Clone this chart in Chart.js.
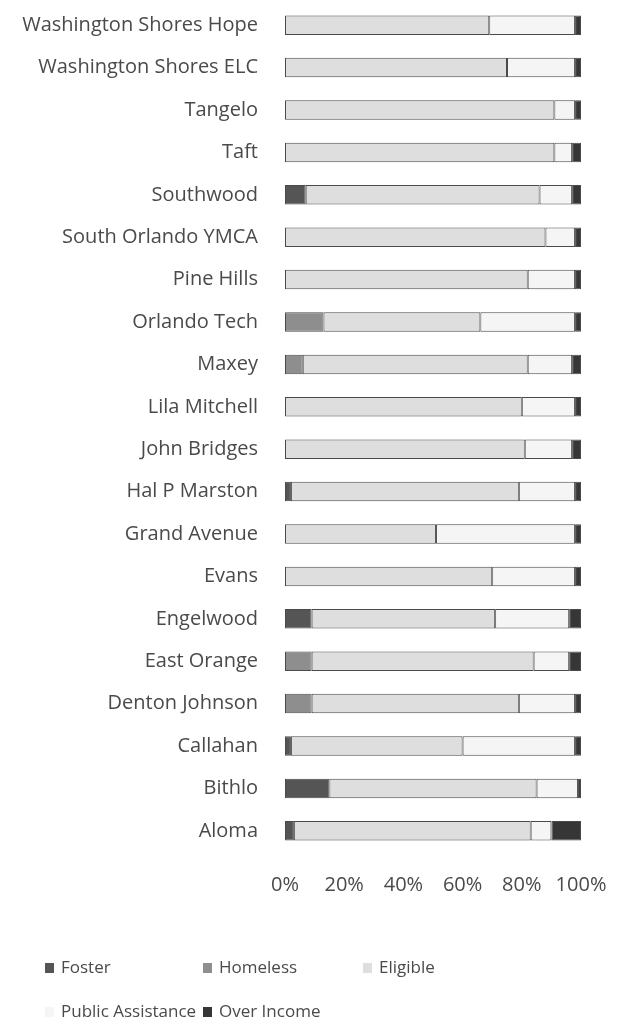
<!DOCTYPE html>
<html>
<head>
<meta charset="utf-8">
<script src="https://cdn.jsdelivr.net/npm/chart.js@4/dist/chart.umd.min.js"></script>
<style>
  html, body { margin: 0; padding: 0; background: #fff; }
  #wrap { width: 621px; height: 1024px; position: relative; }
</style>
</head>
<body>
<div id="wrap"><canvas id="barChart" width="621" height="1024"></canvas></div>
<script>
const schools = [
  "Washington Shores Hope", "Washington Shores ELC", "Tangelo", "Taft", "Southwood",
  "South Orlando YMCA", "Pine Hills", "Orlando Tech", "Maxey", "Lila Mitchell",
  "John Bridges", "Hal P Marston", "Grand Avenue", "Evans", "Engelwood",
  "East Orange", "Denton Johnson", "Callahan", "Bithlo", "Aloma"
];
const foster           = [0, 0, 0, 0, 7, 0, 0, 0, 0, 0, 0, 2, 0, 0, 9, 0, 0, 2, 15, 3];
const homeless         = [0, 0, 0, 0, 0, 0, 0, 13, 6, 0, 0, 0, 0, 0, 0, 9, 9, 0, 0, 0];
const eligible         = [69, 75, 91, 91, 79, 88, 82, 53, 76, 80, 81, 77, 51, 70, 62, 75, 70, 58, 70, 80];
const publicAssistance = [29, 23, 7, 6, 11, 10, 16, 32, 15, 18, 16, 19, 47, 28, 25, 12, 19, 38, 14, 7];
const overIncome       = [2, 2, 2, 3, 3, 2, 2, 2, 3, 2, 3, 2, 2, 2, 4, 4, 2, 2, 1, 10];
const xTicks = [0, 20, 40, 60, 80, 100];

const FONT = "'Open Sans', sans-serif";
const TEXT = "#4a4a4a";

// Excel-style legend in a fixed 3-column grid under the chart
const gridLegend = {
  id: "gridLegend",
  afterDraw(chart) {
    const ctx = chart.ctx;
    const cols = [45, 203, 363];
    const rows = [968, 1012];
    ctx.save();
    ctx.font = "17px " + FONT;
    ctx.textBaseline = "middle";
    chart.data.datasets.forEach((ds, i) => {
      const x = cols[i % 3];
      const y = rows[Math.floor(i / 3)];
      ctx.fillStyle = ds.backgroundColor;
      ctx.fillRect(x, y - 5, 9, 10);
      ctx.fillStyle = TEXT;
      ctx.fillText(ds.label, x + 16, y);
    });
    ctx.restore();
  },
};

const ctx = document.getElementById("barChart").getContext("2d");
const barChart = new Chart(ctx, {
  type: "bar",
  data: {
    labels: schools,
    datasets: [
      { label: "Foster", data: foster, backgroundColor: "#555555" },
      { label: "Homeless", data: homeless, backgroundColor: "#8e8e8e" },
      { label: "Eligible", data: eligible, backgroundColor: "#dedede" },
      { label: "Public Assistance", data: publicAssistance, backgroundColor: "#f5f5f5" },
      { label: "Over Income", data: overIncome, backgroundColor: "#363636" },
    ].map((d) => ({
      ...d,
      borderColor: "#4a4a4a",
      borderWidth: 1,
      borderSkipped: false,
      barPercentage: 0.46,
      categoryPercentage: 1,
    })),
  },
  options: {
    indexAxis: "y",
    responsive: false,
    animation: false,
    layout: { padding: { top: 4, right: 40, bottom: 122, left: 0 } },
    plugins: {
      legend: { display: false },
      tooltip: { enabled: false },
    },
    scales: {
      x: {
        stacked: true,
        min: 0,
        max: 100,
        grid: { display: false, drawTicks: false },
        border: { display: false },
        afterBuildTicks(scale) {
          scale.ticks = xTicks.map((v) => ({ value: v }));
        },
        afterFit(scale) {
          scale.height = 50;
          scale.paddingLeft = 0;
          scale.paddingRight = 0;
        },
        ticks: {
          padding: 21,
          color: TEXT,
          font: { family: FONT, size: 20 },
          callback: (v) => v + "%",
        },
      },
      y: {
        stacked: true,
        grid: { display: false, drawTicks: false },
        border: { display: false },
        afterFit(scale) {
          scale.width = 285;
          scale.paddingTop = 0;
          scale.paddingBottom = 0;
        },
        ticks: {
          padding: 27,
          autoSkip: false,
          color: TEXT,
          font: { family: FONT, size: 20 },
        },
      },
    },
  },
  plugins: [gridLegend],
});
</script>
</body>
</html>
